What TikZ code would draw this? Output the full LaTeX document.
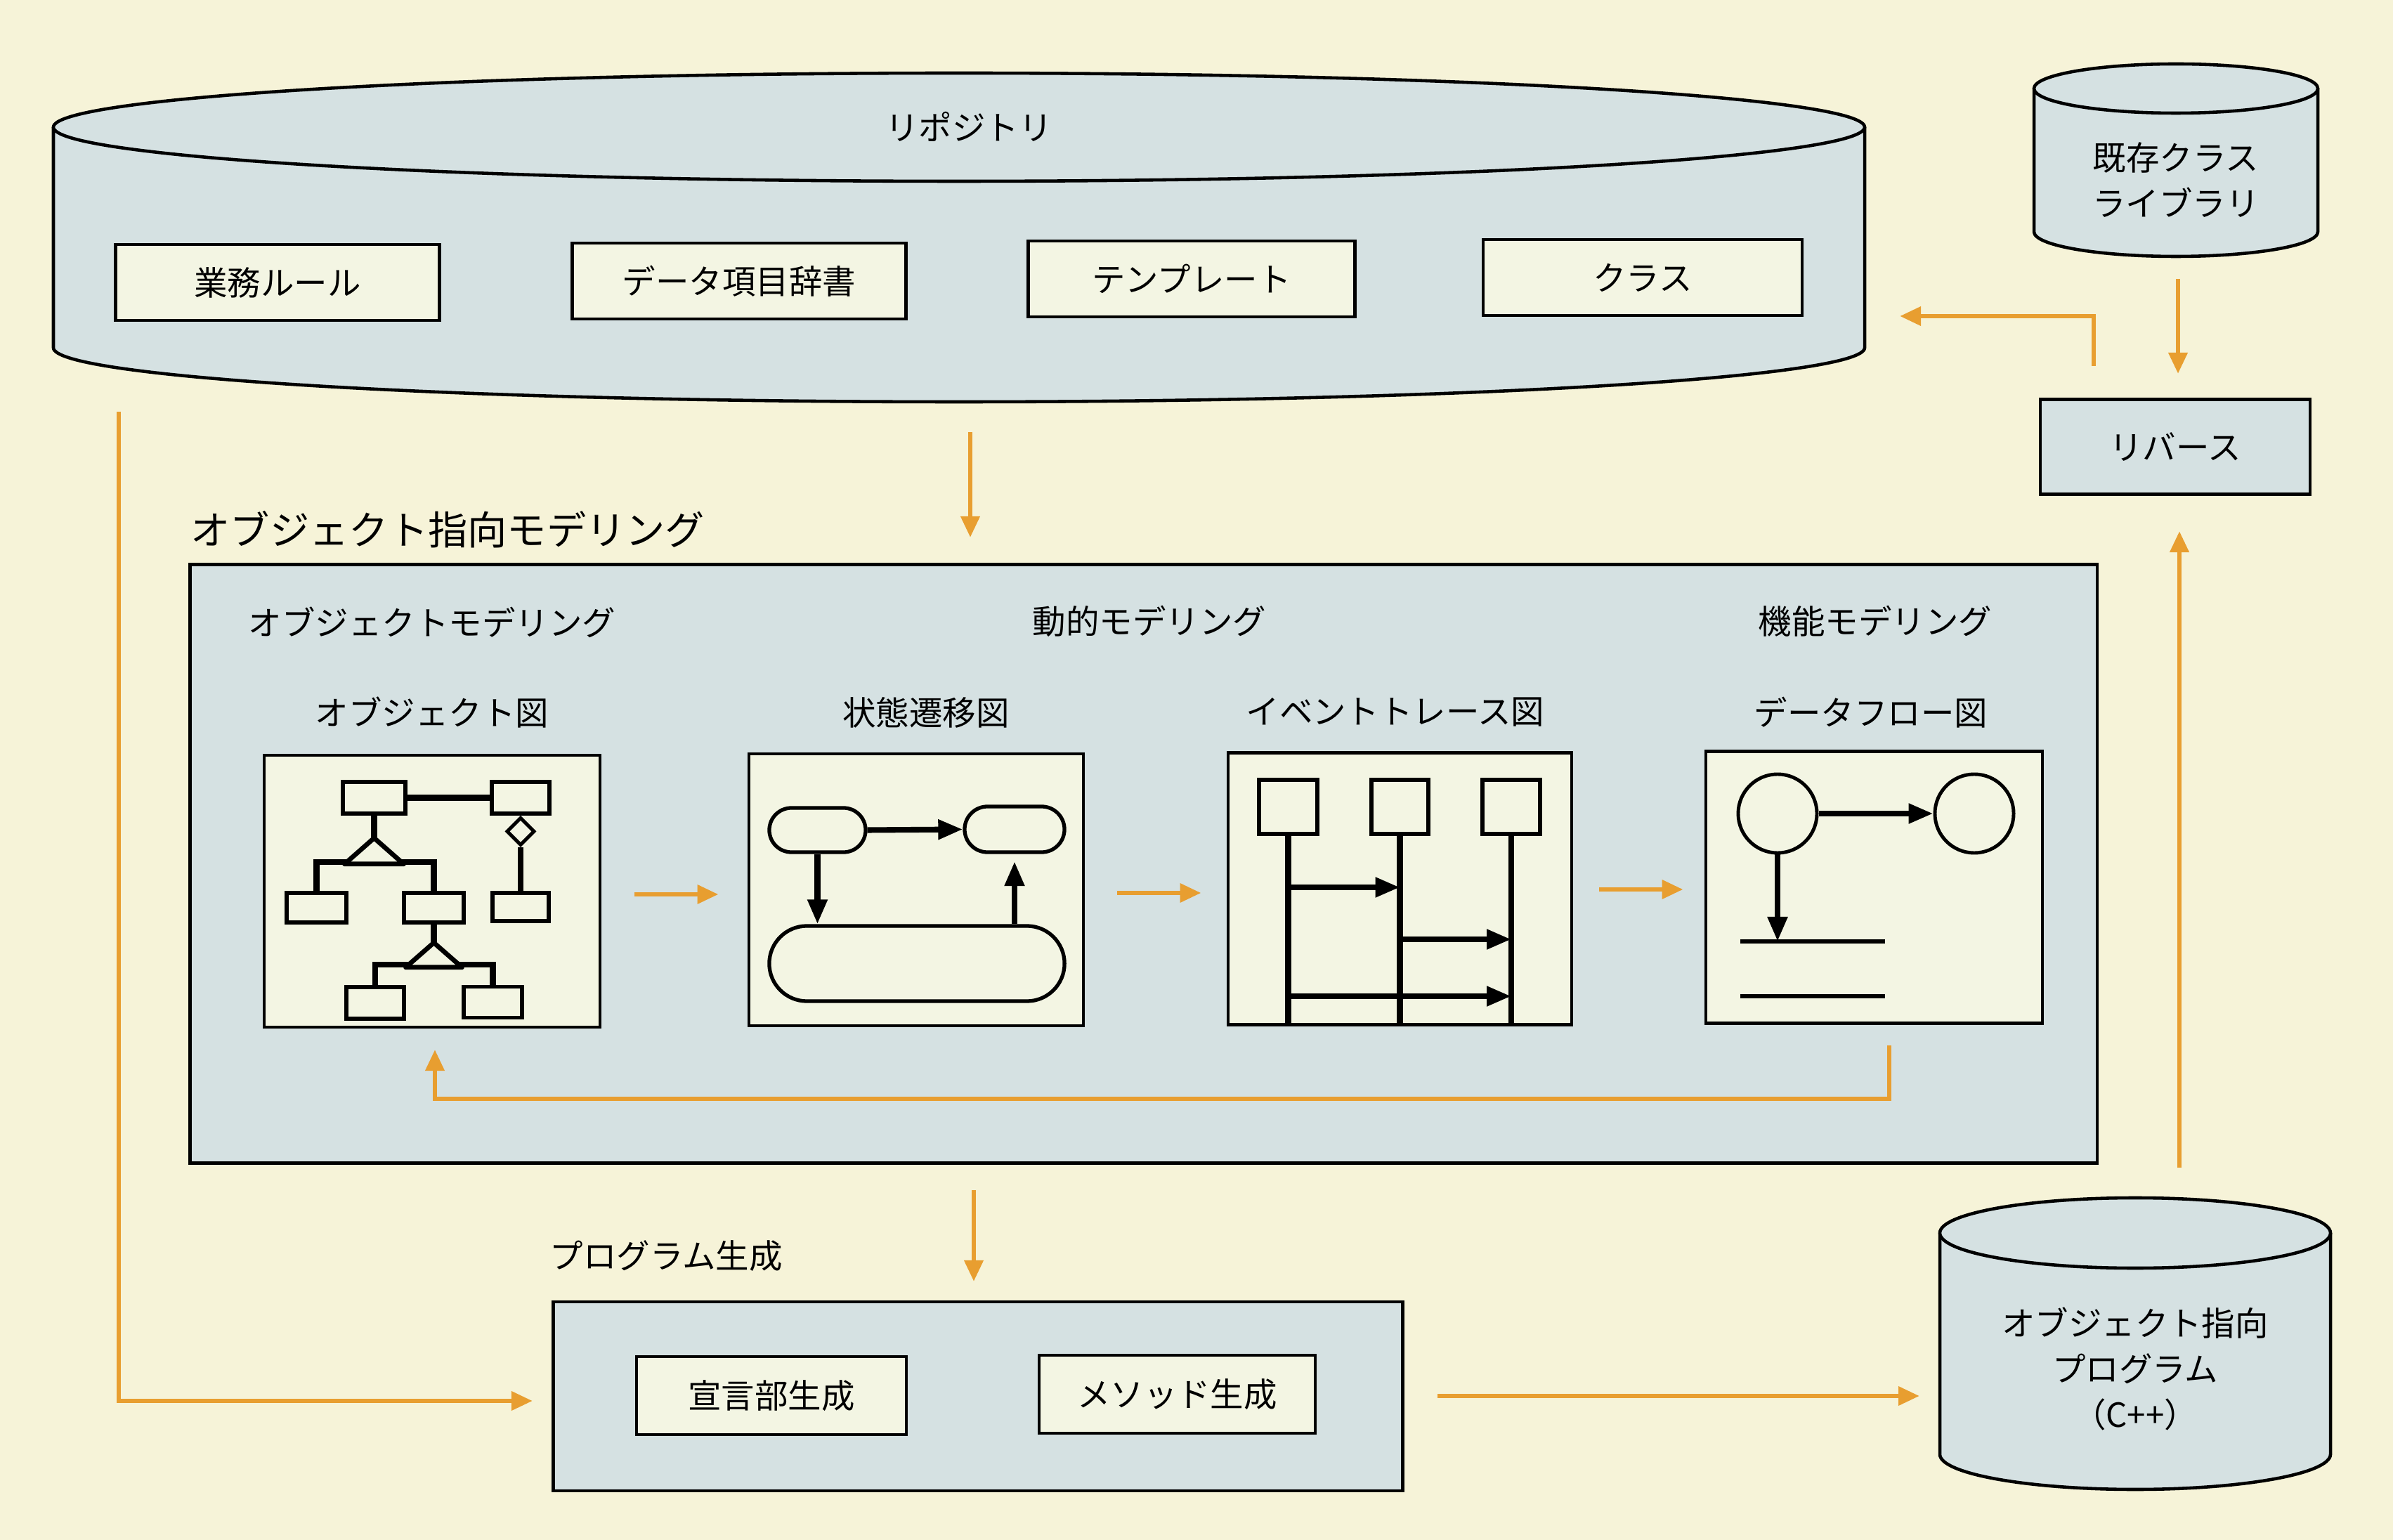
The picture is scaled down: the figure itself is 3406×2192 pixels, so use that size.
\documentclass[tikz,border=0pt]{standalone}
\usepackage{fontspec}
\setmainfont{Noto Sans CJK JP}
\usetikzlibrary{arrows.meta,shapes.geometric,shapes.misc}
\definecolor{bg}{RGB}{246,243,216}
\definecolor{bluefill}{RGB}{213,225,226}
\definecolor{lightfill}{RGB}{243,245,227}
\definecolor{org}{RGB}{232,158,48}
% cylinder: cx, rx, ytop, ybottom, ry
\newcommand{\drawcyl}[5]{%
  \fill[bluefill] ({#1-#2},#3) -- ({#1-#2},#4)
    .. controls ({#1-#2},{#4+0.5523*#5}) and ({#1-0.5523*#2},{#4+#5}) .. (#1,{#4+#5})
    .. controls ({#1+0.5523*#2},{#4+#5}) and ({#1+#2},{#4+0.5523*#5}) .. ({#1+#2},#4)
    -- ({#1+#2},#3) -- cycle;
  \draw[outl] ({#1-#2},#3) -- ({#1-#2},#4)
    .. controls ({#1-#2},{#4+0.5523*#5}) and ({#1-0.5523*#2},{#4+#5}) .. (#1,{#4+#5})
    .. controls ({#1+0.5523*#2},{#4+#5}) and ({#1+#2},{#4+0.5523*#5}) .. ({#1+#2},#4)
    -- ({#1+#2},#3);
  \draw[outl, fill=bluefill] (#1,#3) ellipse [x radius=#2, y radius=#5];
}
\begin{document}
\begin{tikzpicture}[x=0.01cm,y=-0.01cm,
  txt/.style={inner sep=0pt, font=\fontsize{13.5pt}{18.5pt}\selectfont, align=center},
  bigtxt/.style={inner sep=0pt, font=\fontsize{16pt}{19pt}\selectfont},
  outl/.style={draw=black, line width=1.3pt},
  rbox/.style={outl, fill=lightfill, inner sep=0pt, minimum height=1.08cm, font=\fontsize{13.5pt}{16pt}\selectfont},
  panel/.style={outl, fill=bluefill, inner sep=0pt},
  dbox/.style={outl, fill=lightfill, inner sep=0pt, minimum width=4.8cm, minimum height=3.87cm},
  cbox/.style={draw=black, line width=1.6pt, fill=lightfill, inner sep=0pt},
  sbox/.style={draw=black, line width=1.5pt, fill=lightfill, inner sep=0pt, rounded rectangle},
  dline/.style={draw=black, line width=2.3pt},
  tri/.style={draw=black, line width=1.9pt, line join=round, fill=lightfill},
  darrow/.style={dline, -{Triangle[length=0.35cm,width=0.27cm]}},
  oarrow/.style={draw=org, line width=1.9pt, -{Triangle[length=0.3cm,width=0.26cm]}},
]
\fill[bg] (0,0) rectangle (3406,2192);
\useasboundingbox (0,0) rectangle (3406,2192);

% ---------- Repository ----------
\drawcyl{1365}{1289}{181}{495}{77}
\node[txt] (repo) at (1379,180) {リポジトリ};
\node[rbox, minimum width=4.61cm] (rule) at (395,402) {業務ルール};
\node[rbox, minimum width=4.75cm] (dict) at (1052,400) {データ項目辞書};
\node[rbox, minimum width=4.65cm] (tmpl) at (1696,397) {テンプレート};
\node[rbox, minimum width=4.54cm] (cls) at (2338,395) {クラス};

% ---------- Class library & reverse ----------
\drawcyl{3097}{202}{126}{330}{35}
\node[txt] (lib) at (3097,256) {既存クラス\\ライブラリ};
\node[panel, minimum width=3.84cm, minimum height=1.35cm, font=\fontsize{13.5pt}{16pt}\selectfont] (rev) at (3096,636) {リバース};

% ---------- OO program ----------
\drawcyl{3039}{278}{1755}{2070}{50}
\node[txt] (oop) at (3039,1948) {オブジェクト指向\\プログラム\\（C++）};

% ---------- OO modeling panel ----------
\node[bigtxt, anchor=west] (oomtitle) at (271,754) {オブジェクト指向モデリング};
\node[panel, minimum width=27.13cm, minimum height=8.51cm] (oom) at (1627.5,1229.5) {};
\node[txt] (m1) at (615,886) {オブジェクトモデリング};
\node[txt] (m2) at (1636,884) {動的モデリング};
\node[txt] (m3) at (2669,884) {機能モデリング};
\node[txt] (n1) at (615,1014) {オブジェクト図};
\node[txt] (n2) at (1318,1014) {状態遷移図};
\node[txt] (n3) at (1986,1014) {イベントトレース図};
\node[txt] (n4) at (2663,1014) {データフロー図};

\node[dbox, minimum width=4.78cm] (d1) at (615,1268.5) {};
\node[dbox, minimum width=4.76cm] (d2) at (1304,1266.5) {};
\node[dbox, minimum width=4.89cm] (d3) at (1992.5,1265) {};
\node[dbox, minimum width=4.79cm] (d4) at (2667.5,1263) {};

% object diagram
\node[cbox, minimum width=0.89cm, minimum height=0.45cm] (oA) at (532.5,1135.5) {};
\node[cbox, minimum width=0.82cm, minimum height=0.45cm] (oB) at (741,1135.5) {};
\node[cbox, minimum width=0.85cm, minimum height=0.42cm] (oC) at (450.5,1292) {};
\node[cbox, minimum width=0.85cm, minimum height=0.42cm] (oD) at (617.5,1292) {};
\node[cbox, minimum width=0.80cm, minimum height=0.40cm] (oE) at (741,1291) {};
\node[cbox, minimum width=0.82cm, minimum height=0.45cm] (oF) at (534,1427.5) {};
\node[cbox, minimum width=0.83cm, minimum height=0.44cm] (oG) at (701.5,1426.5) {};
\draw[dline] (oA.east) -- (oB.west);
\node[diamond, draw=black, line width=1.4pt, fill=lightfill, inner sep=0pt, minimum width=0.40cm, minimum height=0.40cm, anchor=north] (dia) at (oB.south) {};
\draw[dline] (dia.south) -- (oE.north);
\draw[dline] (oA.south) -- ++(0,32) coordinate (g1);
\coordinate (bus1) at (535,1227);
\draw[dline] (oC.north) -- (oC.north |- bus1) -- (oD.north |- bus1) -- (oD.north);
\draw[tri] (g1) -- ++(-42,37) -- ++(84,0) -- cycle;
\draw[dline] (oD.south) -- ++(0,26) coordinate (g2);
\coordinate (bus2) at (617,1373);
\draw[dline] (oF.north) -- (oF.north |- bus2) -- (oG.north |- bus2) -- (oG.north);
\draw[tri] (g2) -- ++(-40,35) -- ++(80,0) -- cycle;

% state diagram
\node[sbox, minimum width=1.37cm, minimum height=0.63cm] (sA) at (1163.5,1181.5) {};
\node[sbox, minimum width=1.42cm, minimum height=0.65cm] (sB) at (1444,1180.5) {};
\node[sbox, minimum width=4.20cm, minimum height=1.07cm] (sC) at (1305,1371.5) {};
\draw[darrow] (sA.east) -- (sB.west);
\draw[darrow] (sA.south) -- (sA.south |- sC.north);
\draw[darrow, shorten >=3pt] (sB.south |- sC.north) -- (sB.south);

% event trace
\node[cbox, minimum width=0.83cm, minimum height=0.77cm] (e1) at (1833.5,1148.5) {};
\node[cbox, minimum width=0.81cm, minimum height=0.77cm] (e2) at (1992.5,1148.5) {};
\node[cbox, minimum width=0.82cm, minimum height=0.77cm] (e3) at (2151,1148.5) {};
\draw[dline] (e1.south) -- (e1.south |- d3.south);
\draw[dline] (e2.south) -- (e2.south |- d3.south);
\draw[dline] (e3.south) -- (e3.south |- d3.south);
\draw[darrow] (e1.south |- 0,1263) -- (e2.south |- 0,1263);
\draw[darrow] (e2.south |- 0,1337) -- (e3.south |- 0,1337);
\draw[darrow] (e1.south |- 0,1418) -- (e3.south |- 0,1418);

% data flow
\node[circle, draw=black, line width=1.4pt, fill=lightfill, minimum size=1.12cm, inner sep=0pt] (c1) at (2530,1158) {};
\node[circle, draw=black, line width=1.4pt, fill=lightfill, minimum size=1.12cm, inner sep=0pt] (c2) at (2810,1158) {};
\coordinate (ds1a) at (2477,1340);
\coordinate (ds1b) at (2683,1340);
\coordinate (ds2a) at (2477,1418);
\coordinate (ds2b) at (2683,1418);
\draw[darrow] (c1.east) -- (c2.west);
\draw[darrow] (c1.south) -- (c1.south |- ds1a);
\draw[draw=black, line width=1.5pt] (ds1a) -- (ds1b);
\draw[draw=black, line width=1.5pt] (ds2a) -- (ds2b);

% ---------- Program generation ----------
\node[txt, anchor=west] (pgtitle) at (782,1788) {プログラム生成};
\node[panel, minimum width=12.08cm, minimum height=2.69cm] (prog) at (1392,1987.5) {};
\node[rbox, minimum width=3.84cm, minimum height=1.11cm] (decl) at (1098,1986.5) {宣言部生成};
\node[rbox, minimum width=3.93cm, minimum height=1.11cm] (meth) at (1675.5,1984.5) {メソッド生成};

% ---------- Orange connectors ----------
\coordinate (a1s) at (1381,615);   \coordinate (a1e) at (1381,765);
\coordinate (a2s) at (3100,397);   \coordinate (a2e) at (3100,532);
\coordinate (a3s) at (2980,521);   \coordinate (a3m) at (2980,450);  \coordinate (a3e) at (2704,450);
\coordinate (a4s) at (3102,1662);  \coordinate (a4e) at (3102,756);
\coordinate (a5s) at (1386,1694);  \coordinate (a5e) at (1386,1824);
\coordinate (a6s) at (169,586);    \coordinate (a6m) at (169,1994);  \coordinate (a6e) at (758,1994);
\coordinate (a7s) at (2046,1987);  \coordinate (a7e) at (2732,1987);
\coordinate (f1) at (2689,1488);   \coordinate (f2) at (2689,1564);
\coordinate (f3) at (619,1564);    \coordinate (f4) at (619,1494);
\draw[oarrow] (a1s) -- (a1e);
\draw[oarrow] (a2s) -- (a2e);
\draw[oarrow] (a3s) -- (a3m) -- (a3e);
\draw[oarrow] (a4s) -- (a4e);
\draw[oarrow] (a5s) -- (a5e);
\draw[oarrow] (a6s) -- (a6m) -- (a6e);
\draw[oarrow] (a7s) -- (a7e);
\draw[oarrow] (f1) -- (f2) -- (f3) -- (f4);
\draw[oarrow, shorten <=0.47cm, shorten >=0.41cm] (d1.east |- 0,1273) -- (d2.west |- 0,1273);
\draw[oarrow, shorten <=0.46cm, shorten >=0.36cm] (d2.east |- 0,1271) -- (d3.west |- 0,1271);
\draw[oarrow, shorten <=0.37cm, shorten >=0.30cm] (d3.east |- 0,1266) -- (d4.west |- 0,1266);
\end{tikzpicture}
\end{document}
